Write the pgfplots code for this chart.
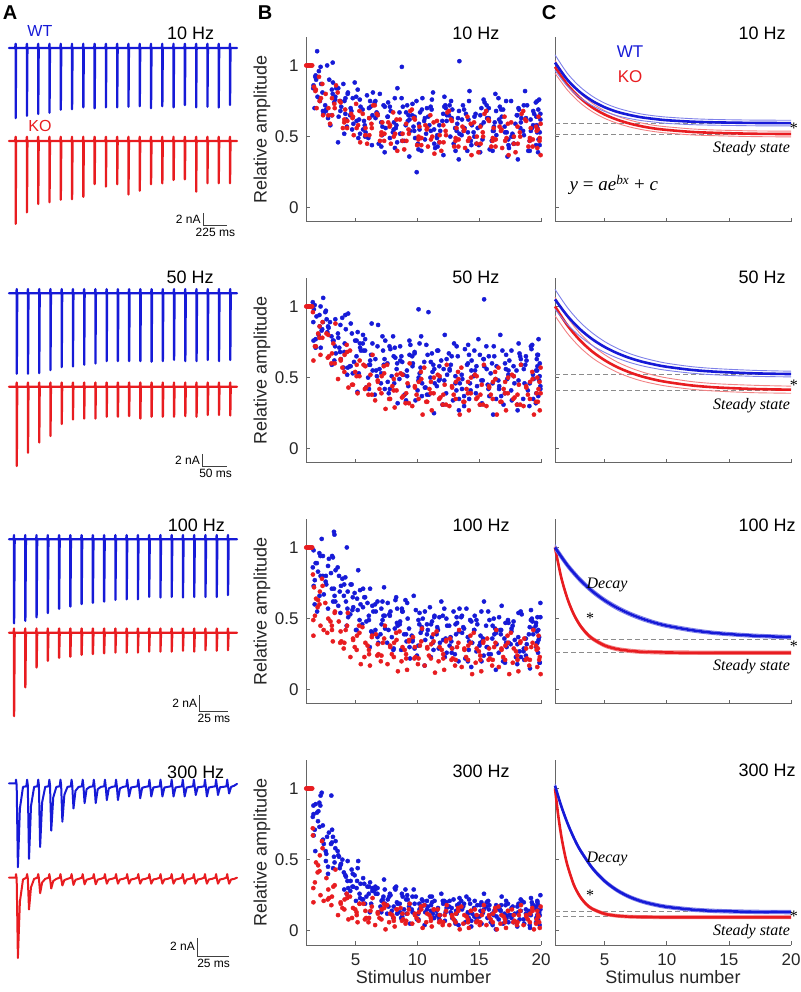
\documentclass[border=0pt]{standalone}
\usepackage{pgfplots}
\pgfplotsset{compat=1.18}
\usepackage{fontspec}
\setmainfont{Liberation Sans}
\newfontfamily\tnr{Liberation Serif}
\newcommand\fs[1]{\fontsize{#1}{#1}\selectfont}
\definecolor{wt}{RGB}{22,26,215}
\definecolor{ko}{RGB}{232,28,32}
\tikzset{sbl/.style={font=\fs{12}, inner sep=1pt}}
\pgfplotsset{
  bc/.style={anchor=south west, scale only axis, height=185pt, xmin=1, xmax=20, ymin=-0.1, ymax=1.2,
    axis x line*=bottom, axis y line*=left,
    axis line style={-, draw=black!60, line width=1pt},
    tick align=inside, major tick length=4pt,
    tick style={black!60, line width=0.8pt},
    xtick={5,10,15,20}, ytick={0,0.5,1},
    ticklabel style={font=\fs{17}, text=black!85},
    /pgf/number format/assume math mode=true,
    xticklabel style={yshift=-5pt}, yticklabel style={xshift=-4pt},
    clip=false},
  colB/.style={bc, width=235pt, ylabel={Relative amplitude},
    ylabel style={font=\fs{18}, text=black!85, at={(axis description cs:-0.187,0.5)}, anchor=center}},
  colC/.style={bc, width=236pt, yticklabels={}},
  nox/.style={xticklabels={}},
  botx/.style={xlabel={Stimulus number}, xlabel style={font=\fs{18}, text=black!85, at={(axis description cs:0.5,-0.173)}, anchor=center}},
  sc/.style={only marks, mark=*, mark size=2.1pt, color=#1},
  panelA/.style={anchor=south west, scale only axis, width=228pt, height=210pt, hide axis, clip=false},
  tr/.style={#1, line width=2.3pt, line join=round, line cap=round},
  cc/.style={#1, line width=2.6pt, smooth},
  cb/.style={#1!55!white, line width=0.9pt, smooth},
  dsh/.style={black!45, line width=1.1pt, dash pattern=on 5pt off 3pt},
  sbar/.style={black!75, line width=0.8pt},
}
\begin{document}
\begin{tikzpicture}
\useasboundingbox (0pt,0pt) rectangle (800pt,992pt);
\node[font=\fs{20}\bfseries] at (10pt,979pt) {A};
\node[font=\fs{20}\bfseries] at (265pt,979pt) {B};
\node[font=\fs{20}\bfseries] at (549pt,979pt) {C};

%================ ROW 1 : 10 Hz =================
\begin{axis}[panelA, at={(9pt,755pt)}, xmin=-0.59, xmax=19.62, ymin=-31.5, ymax=3.5]
\addplot[tr=wt] coordinates {(-0.59,0)(-0.04,0)(0,0.7)(0,-11.7)(0.04,0)(0.96,0)(1,0.7)(1,-11.3)(1.04,0)(1.96,0)(2,0.7)(2,-11.0)(2.04,0)(2.96,0)(3,0.7)(3,-10.8)(3.04,0)(3.96,0)(4,0.7)(4,-10.3)(4.04,0)(4.96,0)(5,0.7)(5,-10.2)(5.04,0)(5.96,0)(6,0.7)(6,-9.9)(6.04,0)(6.96,0)(7,0.7)(7,-10.05)(7.04,0)(7.96,0)(8,0.7)(8,-9.9)(8.04,0)(8.96,0)(9,0.7)(9,-9.9)(9.04,0)(9.96,0)(10,0.7)(10,-9.8)(10.04,0)(10.96,0)(11,0.7)(11,-9.7)(11.04,0)(11.96,0)(12,0.7)(12,-10.05)(12.04,0)(12.96,0)(13,0.7)(13,-9.7)(13.04,0)(13.96,0)(14,0.7)(14,-9.9)(14.04,0)(14.96,0)(15,0.7)(15,-9.5)(15.04,0)(15.96,0)(16,0.7)(16,-9.9)(16.04,0)(16.96,0)(17,0.7)(17,-9.8)(17.04,0)(17.96,0)(18,0.7)(18,-9.9)(18.04,0)(18.96,0)(19,0.7)(19,-9.5)(19.04,0)(19.62,0)};
\node[text=wt, font=\fs{16}] at (axis cs:2.15,2.83) {WT};
\node[font=\fs{18}] at (axis cs:15.5,2.5) {10 Hz};
\end{axis}
\begin{axis}[panelA, at={(9pt,755pt)}, xmin=-0.59, xmax=19.62, ymin=-16.0, ymax=19.0]
\addplot[tr=ko] coordinates {(-0.59,0)(-0.04,0)(0,0.7)(0,-13.8)(0.04,0)(0.96,0)(1,0.7)(1,-11.9)(1.04,0)(1.96,0)(2,0.7)(2,-10.5)(2.04,0)(2.96,0)(3,0.7)(3,-10.2)(3.04,0)(3.96,0)(4,0.7)(4,-9.8)(4.04,0)(4.96,0)(5,0.7)(5,-9.7)(5.04,0)(5.96,0)(6,0.7)(6,-9.3)(6.04,0)(6.96,0)(7,0.7)(7,-7.2)(7.04,0)(7.96,0)(8,0.7)(8,-7.6)(8.04,0)(8.96,0)(9,0.7)(9,-7.2)(9.04,0)(9.96,0)(10,0.7)(10,-8.9)(10.04,0)(10.96,0)(11,0.7)(11,-8.3)(11.04,0)(11.96,0)(12,0.7)(12,-7.2)(12.04,0)(12.96,0)(13,0.7)(13,-7.05)(13.04,0)(13.96,0)(14,0.7)(14,-6.5)(14.04,0)(14.96,0)(15,0.7)(15,-6.4)(15.04,0)(15.96,0)(16,0.7)(16,-8.45)(16.04,0)(16.96,0)(17,0.7)(17,-7.05)(17.04,0)(17.96,0)(18,0.7)(18,-7.05)(18.04,0)(18.96,0)(19,0.7)(19,-7.05)(19.04,0)(19.62,0)};
\node[text=ko, font=\fs{16}] at (axis cs:2.15,2.5) {KO};
\addplot[sbar] coordinates {(16.6,-12)(16.6,-14)(18.73,-14)};
\node[anchor=east, sbl] at (axis cs:16.5,-13) {2 nA};
\node[anchor=north, sbl] at (axis cs:17.7,-14.3) {225 ms};
\end{axis}

\begin{axis}[colB, nox, at={(306pt,770pt)}]
\addplot[sc=wt] coordinates {(1.58,.84)(1.69,.70)(1.82,.90)(1.93,.78)(2.04,.96)(2.13,.75)(2.22,.87)(2.33,.81)(2.41,.66)(1.75,.92)
(1.9,1.10)(3.16,1.02)(8.75,.99)(9.95,.25)(13.4,1.03)
(2.62,.69)(2.88,.90)(3.27,.74)(3.44,.84)(2.97,.58)(3.16,.80)(2.71,1.00)(3.08,.65)(3.36,.76)(2.55,.72)
(4.02,.87)(3.64,.64)(4.31,.57)(3.85,.71)(4.19,.77)(3.59,.46)(4.39,.81)(3.78,.68)(4.11,.75)(4.26,.62)
(4.73,.55)(5.41,.71)(4.94,.88)(5.23,.49)(4.56,.65)(5.35,.76)(4.83,.59)(5.06,.78)(5.29,.62)(4.67,.68)
(5.58,.69)(5.69,.61)(5.82,.53)(5.93,.79)(6.04,.49)(6.13,.63)(6.22,.71)(6.33,.44)(6.41,.81)(5.75,.58)
(6.62,.63)(6.88,.45)(7.27,.72)(7.44,.56)(6.97,.80)(7.16,.51)(6.71,.67)(7.08,.60)(7.36,.39)(6.55,.74)
(8.02,.53)(7.64,.74)(8.31,.58)(7.85,.68)(8.19,.42)(7.59,.64)(8.39,.84)(7.78,.49)(8.11,.60)(8.26,.56)
(8.73,.77)(9.41,.54)(8.94,.47)(9.23,.61)(8.56,.67)(9.35,.36)(8.83,.71)(9.06,.58)(9.29,.65)(8.67,.52)
(9.58,.65)(9.69,.57)(9.82,.49)(9.93,.75)(10.04,.45)(10.13,.59)(10.22,.67)(10.33,.40)(10.41,.77)(9.75,.54)
(10.62,.48)(10.88,.64)(11.27,.81)(11.44,.42)(10.97,.58)(11.16,.69)(10.71,.52)(11.08,.71)(11.36,.55)(10.55,.61)
(12.02,.61)(11.64,.43)(12.31,.70)(11.85,.54)(12.19,.78)(11.59,.49)(12.39,.65)(11.78,.58)(12.11,.37)(12.26,.72)
(12.73,.75)(13.41,.52)(12.94,.45)(13.23,.59)(12.56,.65)(13.35,.34)(12.83,.69)(13.06,.56)(13.29,.63)(12.67,.50)
(13.58,.51)(13.69,.72)(13.82,.56)(13.93,.66)(14.04,.40)(14.13,.62)(14.22,.82)(14.33,.47)(14.41,.58)(13.75,.54)
(14.62,.64)(14.88,.56)(15.27,.48)(15.44,.74)(14.97,.44)(15.16,.58)(14.71,.66)(15.08,.39)(15.36,.76)(14.55,.53)
(16.02,.47)(15.64,.63)(16.31,.80)(15.85,.41)(16.19,.57)(15.59,.68)(16.39,.51)(15.78,.70)(16.11,.54)(16.26,.60)
(16.73,.60)(17.41,.42)(16.94,.69)(17.23,.53)(16.56,.77)(17.35,.48)(16.83,.64)(17.06,.57)(17.29,.36)(16.67,.71)
(17.58,.75)(17.69,.52)(17.82,.45)(17.93,.59)(18.04,.65)(18.13,.34)(18.22,.69)(18.33,.56)(18.41,.63)(17.75,.50)
(18.62,.51)(18.88,.72)(19.27,.56)(19.44,.66)(18.97,.40)(19.16,.62)(18.71,.82)(19.08,.47)(19.36,.58)(18.55,.54)
(19.62,.64)(19.71,.56)(19.80,.48)(19.58,.74)(19.89,.44)(19.66,.58)(19.95,.66)(19.76,.39)(19.85,.76)(19.69,.53)};
\addplot[sc=wt] coordinates {(1.78,.93)(2.09,.77)(2.37,.68)(1.61,.86)(2.18,.99)
(2.78,.63)(3.09,.83)(3.37,.78)(2.61,.68)(3.18,.88)
(3.78,.75)(4.09,.52)(4.37,.80)(3.61,.84)(4.18,.66)
(4.78,.77)(5.09,.61)(5.37,.52)(4.61,.70)(5.18,.83)
(5.78,.50)(6.09,.70)(6.37,.65)(5.61,.55)(6.18,.75)
(6.78,.66)(7.09,.43)(7.37,.71)(6.61,.75)(7.18,.57)
(7.78,.71)(8.09,.55)(8.37,.46)(7.61,.64)(8.18,.77)
(8.78,.47)(9.09,.67)(9.37,.62)(8.61,.52)(9.18,.72)
(9.78,.64)(10.09,.41)(10.37,.69)(9.61,.73)(10.18,.55)
(10.78,.70)(11.09,.54)(11.37,.45)(10.61,.63)(11.18,.76)
(11.78,.46)(12.09,.66)(12.37,.61)(11.61,.51)(12.18,.71)
(12.78,.63)(13.09,.40)(13.37,.68)(12.61,.72)(13.18,.54)
(13.78,.69)(14.09,.53)(14.37,.44)(13.61,.62)(14.18,.75)
(14.78,.45)(15.09,.65)(15.37,.60)(14.61,.50)(15.18,.70)
(15.78,.63)(16.09,.40)(16.37,.68)(15.61,.72)(16.18,.54)
(16.78,.69)(17.09,.53)(17.37,.44)(16.61,.62)(17.18,.75)
(17.78,.45)(18.09,.65)(18.37,.60)(17.61,.50)(18.18,.70)
(18.78,.63)(19.09,.40)(19.37,.68)(18.61,.72)(19.18,.54)
(19.78,.69)(19.9,.53)(19.6,.44)(19.95,.62)(19.7,.75)};
\addplot[sc=ko] coordinates {(1.02,1)(1.1,1)(1.18,1)(1.26,1)(1.34,1)(1.42,1)(1.5,1)
(1.65,.85)(1.86,.70)(2.05,.92)(2.21,.77)(2.38,.65)(1.76,.82)
(3.12,.65)(2.59,.80)(3.29,.73)(2.94,.59)(3.43,.86)(2.81,.70)
(3.72,.75)(4.34,.61)(3.98,.56)(4.17,.69)(3.56,.81)(4.09,.60)
(4.65,.66)(4.86,.51)(5.05,.73)(5.21,.58)(5.38,.46)(4.76,.63)
(6.12,.51)(5.59,.66)(6.29,.59)(5.94,.45)(6.43,.72)(5.81,.56)
(6.72,.66)(7.34,.52)(6.98,.47)(7.17,.60)(6.56,.72)(7.09,.51)
(7.65,.60)(7.86,.45)(8.05,.67)(8.21,.52)(8.38,.40)(7.76,.57)
(9.12,.47)(8.59,.62)(9.29,.55)(8.94,.41)(9.43,.68)(8.81,.52)
(9.72,.63)(10.34,.49)(9.98,.44)(10.17,.57)(9.56,.69)(10.09,.48)
(10.65,.58)(10.86,.43)(11.05,.65)(11.21,.50)(11.38,.38)(10.76,.55)
(12.12,.46)(11.59,.61)(12.29,.54)(11.94,.40)(12.43,.67)(11.81,.51)
(12.72,.62)(13.34,.48)(12.98,.43)(13.17,.56)(12.56,.68)(13.09,.47)
(13.65,.57)(13.86,.42)(14.05,.64)(14.21,.49)(14.38,.37)(13.76,.54)
(15.12,.45)(14.59,.60)(15.29,.53)(14.94,.39)(15.43,.66)(14.81,.50)
(15.72,.62)(16.34,.48)(15.98,.43)(16.17,.56)(15.56,.68)(16.09,.47)
(16.65,.57)(16.86,.42)(17.05,.64)(17.21,.49)(17.38,.37)(16.76,.54)
(18.12,.45)(17.59,.60)(18.29,.53)(17.94,.39)(18.43,.66)(17.81,.50)
(18.72,.62)(19.34,.48)(18.98,.43)(19.17,.56)(18.56,.68)(19.09,.47)
(19.6,.57)(19.7,.42)(19.8,.64)(19.9,.49)(19.97,.37)(19.65,.54)
(1.8,.83)(2.1,.75)(2.32,.87)(2.8,.65)(3.1,.77)(3.32,.70)(3.8,.74)(4.1,.62)(4.32,.56)
(4.8,.64)(5.1,.56)(5.32,.68)(5.8,.51)(6.1,.63)(6.32,.56)(6.8,.65)(7.1,.53)(7.32,.47)
(7.8,.58)(8.1,.50)(8.32,.62)(8.8,.47)(9.1,.59)(9.32,.52)(9.8,.62)(10.1,.50)(10.32,.44)
(10.8,.56)(11.1,.48)(11.32,.60)(11.8,.46)(12.1,.58)(12.32,.51)(12.8,.61)(13.1,.49)(13.32,.43)
(13.8,.55)(14.1,.47)(14.32,.59)(14.8,.45)(15.1,.57)(15.32,.50)(15.8,.61)(16.1,.49)(16.32,.43)
(16.8,.55)(17.1,.47)(17.32,.59)(17.8,.45)(18.1,.57)(18.32,.50)(18.8,.61)(19.1,.49)(19.32,.43)
(19.75,.55)(19.88,.47)(19.97,.59)};
\node[font=\fs{18}] at (axis cs:14.74,1.228) {10 Hz};
\end{axis}

\begin{axis}[colC, nox, at={(555pt,770pt)}]
\addplot[dsh] coordinates {(1,.595)(20,.595)};
\addplot[dsh] coordinates {(1,.517)(20,.517)};
\addplot[cb=ko] coordinates {(1,1.035)(2,.903)(3,.807)(4,.735)(5,.682)(6,.644)(7,.616)(8,.595)(9,.579)(10,.569)(12,.554)(14,.546)(17,.540)(20,.538)};
\addplot[cb=ko] coordinates {(1,.945)(2,.827)(3,.739)(4,.675)(5,.628)(6,.594)(7,.568)(8,.549)(9,.535)(10,.525)(12,.512)(14,.506)(17,.500)(20,.498)};
\addplot[cc=ko] coordinates {(1,.990)(2,.865)(3,.773)(4,.705)(5,.655)(6,.619)(7,.592)(8,.572)(9,.557)(10,.547)(12,.533)(14,.526)(17,.520)(20,.518)};
\addplot[cb=wt] coordinates {(1,1.075)(2,.944)(3,.851)(4,.784)(5,.735)(6,.701)(7,.677)(8,.658)(9,.646)(10,.637)(12,.626)(14,.620)(17,.616)(20,.615)};
\addplot[cb=wt] coordinates {(1,.965)(2,.854)(3,.775)(4,.718)(5,.677)(6,.647)(7,.627)(8,.612)(9,.602)(10,.593)(12,.584)(14,.580)(17,.576)(20,.575)};
\addplot[cc=wt] coordinates {(1,1.020)(2,.899)(3,.813)(4,.751)(5,.706)(6,.674)(7,.652)(8,.635)(9,.624)(10,.615)(12,.605)(14,.600)(17,.596)(20,.595)};
\node[font=\fs{18}] at (axis cs:17.67,1.228) {10 Hz};
\node[text=wt, font=\fs{17}] at (axis cs:7.04,1.095) {WT};
\node[text=ko, font=\fs{17}] at (axis cs:7.04,0.919) {KO};
\node[font=\tnr\fs{16}] at (axis cs:20.24,0.561) {*};
\node[anchor=east, font=\tnr\itshape\fs{16}] at (axis cs:20.2,0.413) {Steady state};
\node[anchor=west, font=\tnr\fs{19}] at (axis cs:1.9,0.16) {\textit{y} = \textit{ae}\textsuperscript{\textit{bx}} + \textit{c}};
\end{axis}

%================ ROW 2 : 50 Hz =================
\begin{axis}[panelA, at={(9pt,514pt)}, xmin=-0.69, xmax=19.6, ymin=-30.78, ymax=4.22]
\addplot[tr=wt] coordinates {(-0.69,0)(-0.04,0)(0,0.7)(0,-13.4)(0.04,0)(0.96,0)(1,0.7)(1,-13.4)(1.04,0)(1.96,0)(2,0.7)(2,-13.3)(2.04,0)(2.96,0)(3,0.7)(3,-12.8)(3.04,0)(3.96,0)(4,0.7)(4,-12.3)(4.04,0)(4.96,0)(5,0.7)(5,-12.2)(5.04,0)(5.96,0)(6,0.7)(6,-11.9)(6.04,0)(6.96,0)(7,0.7)(7,-11.7)(7.04,0)(7.96,0)(8,0.7)(8,-11.3)(8.04,0)(8.96,0)(9,0.7)(9,-11.3)(9.04,0)(9.96,0)(10,0.7)(10,-11.3)(10.04,0)(10.96,0)(11,0.7)(11,-11.3)(11.04,0)(11.96,0)(12,0.7)(12,-11.4)(12.04,0)(12.96,0)(13,0.7)(13,-11.3)(13.04,0)(13.96,0)(14,0.7)(14,-11.1)(14.04,0)(14.96,0)(15,0.7)(15,-11.3)(15.04,0)(15.96,0)(16,0.7)(16,-11.3)(16.04,0)(16.96,0)(17,0.7)(17,-11.1)(17.04,0)(17.96,0)(18,0.7)(18,-11.3)(18.04,0)(18.96,0)(19,0.7)(19,-11.1)(19.04,0)(19.6,0)};
\node[font=\fs{18}] at (axis cs:15.43,2.7) {50 Hz};
\end{axis}
\begin{axis}[panelA, at={(9pt,514pt)}, xmin=-0.69, xmax=19.6, ymin=-15.21, ymax=19.79]
\addplot[tr=ko] coordinates {(-0.69,0)(-0.04,0)(0,0.7)(0,-13.2)(0.04,0)(0.96,0)(1,0.7)(1,-11.0)(1.04,0)(1.96,0)(2,0.7)(2,-9.3)(2.04,0)(2.96,0)(3,0.7)(3,-8.2)(3.04,0)(3.96,0)(4,0.7)(4,-6.2)(4.04,0)(4.96,0)(5,0.7)(5,-5.45)(5.04,0)(5.96,0)(6,0.7)(6,-5.3)(6.04,0)(6.96,0)(7,0.7)(7,-5.3)(7.04,0)(7.96,0)(8,0.7)(8,-5.0)(8.04,0)(8.96,0)(9,0.7)(9,-5.0)(9.04,0)(9.96,0)(10,0.7)(10,-4.9)(10.04,0)(10.96,0)(11,0.7)(11,-5.3)(11.04,0)(11.96,0)(12,0.7)(12,-5.0)(12.04,0)(12.96,0)(13,0.7)(13,-5.0)(13.04,0)(13.96,0)(14,0.7)(14,-5.0)(14.04,0)(14.96,0)(15,0.7)(15,-4.9)(15.04,0)(15.96,0)(16,0.7)(16,-5.0)(16.04,0)(16.96,0)(17,0.7)(17,-4.7)(17.04,0)(17.96,0)(18,0.7)(18,-4.7)(18.04,0)(18.96,0)(19,0.7)(19,-4.8)(19.04,0)(19.6,0)};
\addplot[sbar] coordinates {(16.5,-11.2)(16.5,-13.2)(18.7,-13.2)};
\node[anchor=east, sbl] at (axis cs:16.4,-12.2) {2 nA};
\node[anchor=north, sbl] at (axis cs:17.7,-13.5) {50 ms};
\end{axis}

\begin{axis}[colB, nox, at={(306pt,529pt)}]
\addplot[sc=wt] coordinates {(2.02,.80)(1.64,.98)(2.31,.84)(1.85,.93)(2.19,.71)(1.59,.89)(2.39,1.06)(1.78,.77)(2.11,.86)(2.26,.83)
(1.55,1.03)(1.7,1.01)(10.1,.98)(10.9,.96)(15.4,1.05)
(2.73,.82)(3.41,.67)(2.94,.89)(3.23,.76)(2.56,.96)(3.35,.72)(2.83,.85)(3.06,.79)(3.29,.62)(2.67,.91)
(3.58,.81)(3.69,.71)(3.82,.63)(3.93,.92)(4.04,.57)(4.13,.74)(4.22,.84)(4.33,.52)(4.41,.95)(3.75,.68)
(4.62,.88)(4.88,.61)(5.27,.53)(5.44,.69)(4.97,.76)(5.16,.40)(4.71,.81)(5.08,.65)(5.36,.74)(4.55,.58)
(6.02,.50)(5.64,.69)(6.31,.88)(5.85,.43)(6.19,.62)(5.59,.74)(6.39,.55)(5.78,.77)(6.11,.59)(6.26,.66)
(6.73,.51)(7.41,.76)(6.94,.56)(7.23,.69)(6.56,.38)(7.35,.63)(6.83,.87)(7.06,.46)(7.29,.59)(6.67,.55)
(7.58,.60)(7.69,.39)(7.82,.70)(7.93,.51)(8.04,.79)(8.13,.46)(8.22,.64)(8.33,.56)(8.41,.32)(7.75,.72)
(8.62,.62)(8.88,.52)(9.27,.44)(9.44,.73)(8.97,.38)(9.16,.55)(8.71,.65)(9.08,.33)(9.36,.76)(8.55,.49)
(10.02,.41)(9.64,.60)(10.31,.79)(9.85,.34)(10.19,.53)(9.59,.65)(10.39,.46)(9.78,.68)(10.11,.50)(10.26,.57)
(10.73,.73)(11.41,.46)(10.94,.38)(11.23,.54)(10.56,.61)(11.35,.25)(10.83,.66)(11.06,.50)(11.29,.59)(10.67,.43)
(11.58,.44)(11.69,.69)(11.82,.49)(11.93,.62)(12.04,.31)(12.13,.56)(12.22,.80)(12.33,.39)(12.41,.52)(11.75,.48)
(12.62,.55)(12.88,.34)(13.27,.65)(13.44,.46)(12.97,.74)(13.16,.41)(12.71,.59)(13.08,.51)(13.36,.27)(12.55,.67)
(14.02,.59)(13.64,.49)(14.31,.41)(13.85,.70)(14.19,.35)(13.59,.52)(14.39,.62)(13.78,.30)(14.11,.73)(14.26,.46)
(14.73,.39)(15.41,.58)(14.94,.77)(15.23,.32)(14.56,.51)(15.35,.63)(14.83,.44)(15.06,.66)(15.29,.48)(14.67,.55)
(15.58,.72)(15.69,.45)(15.82,.37)(15.93,.53)(16.04,.60)(16.13,.24)(16.22,.65)(16.33,.49)(16.41,.58)(15.75,.42)
(16.62,.44)(16.88,.69)(17.27,.49)(17.44,.62)(16.97,.31)(17.16,.56)(16.71,.80)(17.08,.39)(17.36,.52)(16.55,.48)
(18.02,.55)(17.64,.34)(18.31,.65)(17.85,.46)(18.19,.74)(17.59,.41)(18.39,.59)(17.78,.51)(18.11,.27)(18.26,.67)
(18.73,.59)(19.41,.49)(18.94,.41)(19.23,.70)(18.56,.35)(19.35,.52)(18.83,.62)(19.06,.30)(19.29,.73)(18.67,.46)
(19.62,.39)(19.71,.58)(19.80,.77)(19.58,.32)(19.89,.51)(19.66,.63)(19.95,.44)(19.76,.66)(19.85,.48)(19.69,.55)};
\addplot[sc=wt] coordinates {(1.78,.71)(2.09,.94)(2.37,.89)(1.61,.76)(2.18,1.00)
(2.78,.86)(3.09,.59)(3.37,.91)(2.61,.97)(3.18,.76)
(3.78,.87)(4.09,.68)(4.37,.57)(3.61,.78)(4.18,.94)
(4.78,.53)(5.09,.76)(5.37,.71)(4.61,.58)(5.18,.82)
(5.78,.69)(6.09,.42)(6.37,.74)(5.61,.80)(6.18,.59)
(6.78,.72)(7.09,.53)(7.37,.42)(6.61,.63)(7.18,.79)
(7.78,.42)(8.09,.65)(8.37,.60)(7.61,.47)(8.18,.71)
(8.78,.61)(9.09,.34)(9.37,.66)(8.61,.72)(9.18,.51)
(9.78,.67)(10.09,.48)(10.37,.37)(9.61,.58)(10.18,.74)
(10.78,.38)(11.09,.61)(11.37,.56)(10.61,.43)(11.18,.67)
(11.78,.58)(12.09,.31)(12.37,.63)(11.61,.69)(12.18,.48)
(12.78,.65)(13.09,.46)(13.37,.35)(12.61,.56)(13.18,.72)
(13.78,.37)(14.09,.60)(14.37,.55)(13.61,.42)(14.18,.66)
(14.78,.58)(15.09,.31)(15.37,.63)(14.61,.69)(15.18,.48)
(15.78,.65)(16.09,.46)(16.37,.35)(15.61,.56)(16.18,.72)
(16.78,.37)(17.09,.60)(17.37,.55)(16.61,.42)(17.18,.66)
(17.78,.58)(18.09,.31)(18.37,.63)(17.61,.69)(18.18,.48)
(18.78,.65)(19.09,.46)(19.37,.35)(18.61,.56)(19.18,.72)
(19.78,.37)(19.9,.60)(19.6,.55)(19.95,.42)(19.7,.66)};
\addplot[sc=ko] coordinates {(1.02,1)(1.1,1)(1.18,1)(1.26,1)(1.34,1)(1.42,1)(1.5,1)
(1.72,.72)(2.34,.89)(1.98,.81)(2.17,.66)(1.56,.96)(2.09,.78)(1.6,.62)
(2.65,.81)(2.86,.65)(3.05,.60)(3.21,.74)(3.38,.88)(2.76,.64)
(4.12,.66)(3.59,.49)(4.29,.73)(3.94,.57)(4.43,.43)(3.81,.62)
(4.72,.45)(5.34,.62)(4.98,.54)(5.17,.39)(4.56,.69)(5.09,.51)
(5.65,.59)(5.86,.43)(6.05,.38)(6.21,.52)(6.38,.66)(5.76,.42)
(7.12,.51)(6.59,.34)(7.29,.58)(6.94,.42)(7.43,.28)(6.81,.47)
(7.72,.35)(8.34,.52)(7.98,.44)(8.17,.29)(7.56,.59)(8.09,.41)
(8.65,.53)(8.86,.37)(9.05,.32)(9.21,.46)(9.38,.60)(8.76,.36)
(10.12,.47)(9.59,.30)(10.29,.54)(9.94,.38)(10.43,.24)(9.81,.43)
(10.72,.33)(11.34,.50)(10.98,.42)(11.17,.27)(10.56,.57)(11.09,.39)
(11.65,.52)(11.86,.36)(12.05,.31)(12.21,.45)(12.38,.59)(11.76,.35)
(13.12,.47)(12.59,.30)(13.29,.54)(12.94,.38)(13.43,.24)(12.81,.43)
(13.72,.33)(14.34,.50)(13.98,.42)(14.17,.27)(13.56,.57)(14.09,.39)
(14.65,.52)(14.86,.36)(15.05,.31)(15.21,.45)(15.38,.59)(14.76,.35)
(16.12,.47)(15.59,.30)(16.29,.54)(15.94,.38)(16.43,.24)(15.81,.43)
(16.72,.33)(17.34,.50)(16.98,.42)(17.17,.27)(16.56,.57)(17.09,.39)
(17.65,.52)(17.86,.36)(18.05,.31)(18.21,.45)(18.38,.59)(17.76,.35)
(19.12,.47)(18.59,.30)(19.29,.54)(18.94,.38)(19.43,.24)(18.81,.43)
(19.6,.33)(19.7,.50)(19.8,.42)(19.9,.27)(19.97,.57)(19.65,.39)
(1.8,.72)(2.1,.86)(2.32,.78)(2.8,.80)(3.1,.67)(3.32,.60)(3.8,.63)(4.1,.54)(4.32,.68)
(4.8,.45)(5.1,.59)(5.32,.51)(5.8,.58)(6.1,.45)(6.32,.38)(6.8,.48)(7.1,.39)(7.32,.53)
(7.8,.35)(8.1,.49)(8.32,.41)(8.8,.52)(9.1,.39)(9.32,.32)(9.8,.44)(10.1,.35)(10.32,.49)
(10.8,.33)(11.1,.47)(11.32,.39)(11.8,.51)(12.1,.38)(12.32,.31)(12.8,.44)(13.1,.35)(13.32,.49)
(13.8,.33)(14.1,.47)(14.32,.39)(14.8,.51)(15.1,.38)(15.32,.31)(15.8,.44)(16.1,.35)(16.32,.49)
(16.8,.33)(17.1,.47)(17.32,.39)(17.8,.51)(18.1,.38)(18.32,.31)(18.8,.44)(19.1,.35)(19.32,.49)
(19.75,.33)(19.88,.47)(19.97,.39)};
\node[font=\fs{18}] at (axis cs:14.74,1.207) {50 Hz};
\end{axis}

\begin{axis}[colC, nox, at={(555pt,529pt)}]
\addplot[dsh] coordinates {(1,.52)(20,.52)};
\addplot[dsh] coordinates {(1,.41)(20,.41)};
\addplot[cb=ko] coordinates {(1,1.065)(2,.923)(3,.812)(4,.727)(5,.661)(6,.610)(7,.571)(8,.540)(9,.516)(10,.498)(12,.472)(14,.457)(17,.446)(20,.440)};
\addplot[cb=ko] coordinates {(1,.935)(2,.811)(3,.714)(4,.639)(5,.583)(6,.538)(7,.503)(8,.476)(9,.456)(10,.440)(12,.418)(14,.405)(17,.394)(20,.390)};
\addplot[cc=ko] coordinates {(1,1.000)(2,.867)(3,.763)(4,.683)(5,.622)(6,.574)(7,.537)(8,.508)(9,.486)(10,.469)(12,.445)(14,.431)(17,.420)(20,.415)};
\addplot[cb=wt] coordinates {(1,1.120)(2,.992)(3,.891)(4,.814)(5,.753)(6,.706)(7,.669)(8,.641)(9,.619)(10,.601)(12,.577)(14,.563)(17,.551)(20,.545)};
\addplot[cb=wt] coordinates {(1,.980)(2,.874)(3,.791)(4,.726)(5,.677)(6,.638)(7,.607)(8,.583)(9,.565)(10,.551)(12,.531)(14,.519)(17,.509)(20,.505)};
\addplot[cc=wt] coordinates {(1,1.050)(2,.933)(3,.841)(4,.770)(5,.715)(6,.672)(7,.638)(8,.612)(9,.592)(10,.576)(12,.554)(14,.541)(17,.530)(20,.525)};
\node[font=\fs{18}] at (axis cs:17.67,1.207) {50 Hz};
\node[font=\tnr\fs{16}] at (axis cs:20.24,0.448) {*};
\node[anchor=east, font=\tnr\itshape\fs{16}] at (axis cs:20.2,0.30) {Steady state};
\end{axis}

%================ ROW 3 : 100 Hz =================
\begin{axis}[panelA, at={(9pt,273pt)}, xmin=-0.45, xmax=19.8, ymin=-29.95, ymax=5.05]
\addplot[tr=wt] coordinates {(-0.45,0)(-0.04,0)(0,0.7)(0,-14.0)(0.05,0)(0.96,0)(1,0.7)(1,-13.6)(1.05,0)(1.96,0)(2,0.7)(2,-13.0)(2.05,0)(2.96,0)(3,0.7)(3,-12.3)(3.05,0)(3.96,0)(4,0.7)(4,-11.6)(4.05,0)(4.96,0)(5,0.7)(5,-11.2)(5.05,0)(5.96,0)(6,0.7)(6,-10.8)(6.05,0)(6.96,0)(7,0.7)(7,-10.6)(7.05,0)(7.96,0)(8,0.7)(8,-10.4)(8.05,0)(8.96,0)(9,0.7)(9,-10.1)(9.05,0)(9.96,0)(10,0.7)(10,-10.0)(10.05,0)(10.96,0)(11,0.7)(11,-10.0)(11.05,0)(11.96,0)(12,0.7)(12,-9.6)(12.05,0)(12.96,0)(13,0.7)(13,-9.7)(13.05,0)(13.96,0)(14,0.7)(14,-9.6)(14.05,0)(14.96,0)(15,0.7)(15,-9.7)(15.05,0)(15.96,0)(16,0.7)(16,-9.6)(16.05,0)(16.96,0)(17,0.7)(17,-9.6)(17.05,0)(17.96,0)(18,0.7)(18,-9.6)(18.05,0)(18.96,0)(19,0.7)(19,-9.3)(19.05,0)(19.8,0)};
\node[font=\fs{18}] at (axis cs:16.2,2.4) {100 Hz};
\end{axis}
\begin{axis}[panelA, at={(9pt,273pt)}, xmin=-0.45, xmax=19.8, ymin=-14.38, ymax=20.62]
\addplot[tr=ko] coordinates {(-0.45,0)(-0.04,0)(0,0.7)(0,-13.9)(0.05,0)(0.96,0)(1,0.7)(1,-9.1)(1.05,0)(1.96,0)(2,0.7)(2,-5.8)(2.05,0)(2.96,0)(3,0.7)(3,-4.7)(3.05,0)(3.96,0)(4,0.7)(4,-4.2)(4.05,0)(4.96,0)(5,0.7)(5,-4.0)(5.05,0)(5.96,0)(6,0.7)(6,-3.7)(6.05,0)(6.96,0)(7,0.7)(7,-3.55)(7.05,0)(7.96,0)(8,0.7)(8,-3.45)(8.05,0)(8.96,0)(9,0.7)(9,-3.3)(9.05,0)(9.96,0)(10,0.7)(10,-3.3)(10.05,0)(10.96,0)(11,0.7)(11,-3.3)(11.05,0)(11.96,0)(12,0.7)(12,-3.15)(12.05,0)(12.96,0)(13,0.7)(13,-3.15)(13.05,0)(13.96,0)(14,0.7)(14,-3.15)(14.05,0)(14.96,0)(15,0.7)(15,-3.0)(15.05,0)(15.96,0)(16,0.7)(16,-3.15)(16.05,0)(16.96,0)(17,0.7)(17,-2.9)(17.05,0)(17.96,0)(18,0.7)(18,-3.0)(18.05,0)(18.96,0)(19,0.7)(19,-2.9)(19.05,0)(19.8,0)};
\addplot[sbar] coordinates {(16.46,-10.4)(16.46,-13.05)(19.0,-13.05)};
\node[anchor=east, sbl] at (axis cs:16.36,-11.7) {2 nA};
\node[anchor=north, sbl] at (axis cs:17.75,-13.3) {25 ms};
\end{axis}

\begin{axis}[colB, nox, at={(306pt,288pt)}]
\addplot[sc=wt] coordinates {(1.62,.73)(1.88,.89)(2.27,1.06)(2.44,.67)(1.97,.83)(2.16,.94)(1.71,.77)(2.08,.96)(2.36,.80)(1.55,.86)
(3.26,1.11)(3.3,1.09)(4.3,1.0)(1.7,.60)(1.9,.55)
(3.02,.82)(2.64,.74)(3.31,.66)(2.85,.92)(3.19,.62)(2.59,.76)(3.39,.84)(2.78,.57)(3.11,.94)(3.26,.71)
(3.73,.69)(4.41,.51)(3.94,.78)(4.23,.62)(3.56,.86)(4.35,.57)(3.83,.73)(4.06,.66)(4.29,.45)(3.67,.80)
(4.58,.53)(4.69,.74)(4.82,.58)(4.93,.68)(5.04,.42)(5.13,.64)(5.22,.84)(5.33,.49)(5.41,.60)(4.75,.56)
(5.62,.71)(5.88,.48)(6.27,.41)(6.44,.55)(5.97,.61)(6.16,.30)(5.71,.65)(6.08,.52)(6.36,.59)(5.55,.46)
(7.02,.39)(6.64,.55)(7.31,.72)(6.85,.33)(7.19,.49)(6.59,.60)(7.39,.43)(6.78,.62)(7.11,.46)(7.26,.52)
(7.73,.53)(8.41,.45)(7.94,.37)(8.23,.63)(7.56,.33)(8.35,.47)(7.83,.55)(8.06,.28)(8.29,.65)(7.67,.42)
(8.58,.46)(8.69,.28)(8.82,.55)(8.93,.39)(9.04,.63)(9.13,.34)(9.22,.50)(9.33,.43)(9.41,.22)(8.75,.57)
(9.62,.35)(9.88,.56)(10.27,.40)(10.44,.50)(9.97,.24)(10.16,.46)(9.71,.66)(10.08,.31)(10.36,.42)(9.55,.38)
(11.02,.58)(10.64,.35)(11.31,.28)(10.85,.42)(11.19,.48)(10.59,.17)(11.39,.52)(10.78,.39)(11.11,.46)(11.26,.33)
(11.73,.29)(12.41,.45)(11.94,.62)(12.23,.23)(11.56,.39)(12.35,.50)(11.83,.33)(12.06,.52)(12.29,.36)(11.67,.42)
(12.58,.45)(12.69,.37)(12.82,.29)(12.93,.55)(13.04,.25)(13.13,.39)(13.22,.47)(13.33,.20)(13.41,.57)(12.75,.34)
(13.62,.40)(13.88,.22)(14.27,.49)(14.44,.33)(13.97,.57)(14.16,.28)(13.71,.44)(14.08,.37)(14.36,.16)(13.55,.51)
(15.02,.31)(14.64,.52)(15.31,.36)(14.85,.46)(15.19,.20)(14.59,.42)(15.39,.62)(14.78,.27)(15.11,.38)(15.26,.34)
(15.73,.55)(16.41,.32)(15.94,.25)(16.23,.39)(15.56,.45)(16.35,.14)(15.83,.49)(16.06,.36)(16.29,.43)(15.67,.30)
(16.58,.26)(16.69,.42)(16.82,.59)(16.93,.20)(17.04,.36)(17.13,.47)(17.22,.30)(17.33,.49)(17.41,.33)(16.75,.39)
(17.62,.43)(17.88,.35)(18.27,.27)(18.44,.53)(17.97,.23)(18.16,.37)(17.71,.45)(18.08,.18)(18.36,.55)(17.55,.32)
(19.02,.39)(18.64,.21)(19.31,.48)(18.85,.32)(19.19,.56)(18.59,.27)(19.39,.43)(18.78,.36)(19.11,.15)(19.26,.50)
(19.62,.30)(19.71,.51)(19.80,.35)(19.58,.45)(19.89,.19)(19.66,.41)(19.95,.61)(19.76,.26)(19.85,.37)(19.69,.33)};
\addplot[sc=wt] coordinates {(1.78,.89)(2.09,.66)(2.37,.94)(1.61,.98)(2.18,.80)
(2.78,.87)(3.09,.71)(3.37,.62)(2.61,.80)(3.18,.93)
(3.78,.54)(4.09,.74)(4.37,.69)(3.61,.59)(4.18,.79)
(4.78,.65)(5.09,.42)(5.37,.70)(4.61,.74)(5.18,.56)
(5.78,.65)(6.09,.49)(6.37,.40)(5.61,.58)(6.18,.71)
(6.78,.37)(7.09,.57)(7.37,.52)(6.61,.42)(7.18,.62)
(7.78,.52)(8.09,.29)(8.37,.57)(7.61,.61)(8.18,.43)
(8.78,.55)(9.09,.39)(9.37,.30)(8.61,.48)(9.18,.61)
(9.78,.29)(10.09,.49)(10.37,.44)(9.61,.34)(10.18,.54)
(10.78,.46)(11.09,.23)(11.37,.51)(10.61,.55)(11.18,.37)
(11.78,.51)(12.09,.35)(12.37,.26)(11.61,.44)(12.18,.57)
(12.78,.26)(13.09,.46)(13.37,.41)(12.61,.31)(13.18,.51)
(13.78,.43)(14.09,.20)(14.37,.48)(13.61,.52)(14.18,.34)
(14.78,.49)(15.09,.33)(15.37,.24)(14.61,.42)(15.18,.55)
(15.78,.25)(16.09,.45)(16.37,.40)(15.61,.30)(16.18,.50)
(16.78,.42)(17.09,.19)(17.37,.47)(16.61,.51)(17.18,.33)
(17.78,.48)(18.09,.32)(18.37,.23)(17.61,.41)(18.18,.54)
(18.78,.24)(19.09,.44)(19.37,.39)(18.61,.29)(19.18,.49)
(19.78,.42)(19.9,.19)(19.6,.47)(19.95,.51)(19.7,.33)};
\addplot[sc=ko] coordinates {(1.02,1)(1.1,1)(1.18,1)(1.26,1)(1.34,1)(1.42,1)(1.5,1)
(2.12,.69)(1.59,.49)(2.29,.78)(1.94,.58)(2.43,.42)(1.81,.64)(1.72,.52)(2.34,.73)(1.98,.63)(2.17,.45)(1.56,.81)(2.09,.60)(1.6,.38)(1.65,.72)
(2.72,.40)(3.34,.55)(2.98,.48)(3.17,.34)(2.56,.61)(3.09,.45)(2.8,.50)(3.1,.42)(3.32,.54)
(3.65,.48)(3.86,.34)(4.05,.29)(4.21,.42)(4.38,.54)(3.76,.33)(3.8,.41)(4.1,.33)(4.32,.45)
(5.12,.38)(4.59,.23)(5.29,.45)(4.94,.30)(5.43,.18)(4.81,.35)(4.8,.36)(5.1,.28)(5.32,.40)
(5.72,.23)(6.34,.38)(5.98,.31)(6.17,.17)(5.56,.44)(6.09,.28)(5.8,.33)(6.1,.25)(6.32,.37)
(6.65,.39)(6.86,.25)(7.05,.20)(7.21,.33)(7.38,.45)(6.76,.24)(6.8,.32)(7.1,.24)(7.32,.36)
(8.12,.33)(7.59,.18)(8.29,.40)(7.94,.25)(8.43,.13)(7.81,.30)(7.8,.31)(8.1,.23)(8.32,.35)
(8.72,.20)(9.34,.35)(8.98,.28)(9.17,.14)(8.56,.41)(9.09,.25)(8.8,.30)(9.1,.22)(9.32,.34)
(9.65,.37)(9.86,.23)(10.05,.18)(10.21,.31)(10.38,.43)(9.76,.22)(9.8,.30)(10.1,.22)(10.32,.34)
(11.12,.32)(10.59,.17)(11.29,.39)(10.94,.24)(11.43,.12)(10.81,.29)(10.8,.30)(11.1,.22)(11.32,.34)
(11.72,.20)(12.34,.35)(11.98,.28)(12.17,.14)(11.56,.41)(12.09,.25)(11.8,.30)(12.1,.22)(12.32,.34)
(12.65,.36)(12.86,.22)(13.05,.17)(13.21,.30)(13.38,.42)(12.76,.21)(12.8,.29)(13.1,.21)(13.32,.33)
(14.12,.31)(13.59,.16)(14.29,.38)(13.94,.23)(14.43,.11)(13.81,.28)(13.8,.29)(14.1,.21)(14.32,.33)
(14.72,.19)(15.34,.34)(14.98,.27)(15.17,.13)(14.56,.40)(15.09,.24)(14.8,.29)(15.1,.21)(15.32,.33)
(15.65,.36)(15.86,.22)(16.05,.17)(16.21,.30)(16.38,.42)(15.76,.21)(15.8,.29)(16.1,.21)(16.32,.33)
(17.12,.31)(16.59,.16)(17.29,.38)(16.94,.23)(17.43,.11)(16.81,.28)(16.8,.29)(17.1,.21)(17.32,.33)
(17.72,.19)(18.34,.34)(17.98,.27)(18.17,.13)(17.56,.40)(18.09,.24)(17.8,.29)(18.1,.21)(18.32,.33)
(18.65,.36)(18.86,.22)(19.05,.17)(19.21,.30)(19.38,.42)(18.76,.21)(18.8,.29)(19.1,.21)(19.32,.33)
(19.6,.31)(19.7,.16)(19.8,.38)(19.9,.23)(19.97,.11)(19.65,.28)(19.75,.29)(19.85,.21)};
\node[font=\fs{18}] at (axis cs:15.15,1.158) {100 Hz};
\end{axis}

\begin{axis}[colC, nox, at={(555pt,288pt)}]
\addplot[dsh] coordinates {(1,.355)(20,.355)};
\addplot[dsh] coordinates {(1,.26)(20,.26)};
\addplot[cb=ko] coordinates {(1,1.012)(1.5,.802)(2,.652)(2.5,.544)(3,.467)(3.5,.412)(4,.372)(5,.323)(6,.298)(7,.286)(8,.279)(10,.274)(14,.272)(20,.272)};
\addplot[cb=ko] coordinates {(1,.988)(1.5,.778)(2,.628)(2.5,.520)(3,.443)(3.5,.388)(4,.348)(5,.299)(6,.274)(7,.262)(8,.255)(10,.250)(14,.248)(20,.248)};
\addplot[cc=ko] coordinates {(1,1.000)(1.5,.790)(2,.640)(2.5,.532)(3,.455)(3.5,.400)(4,.360)(5,.311)(6,.286)(7,.274)(8,.267)(10,.262)(14,.260)(20,.260)};
\addplot[cb=wt] coordinates {(1,1.020)(2,.893)(3,.791)(4,.709)(5,.643)(6,.591)(7,.548)(8,.514)(9,.485)(10,.463)(12,.432)(14,.410)(17,.392)(20,.382)};
\addplot[cb=wt] coordinates {(1,.980)(2,.857)(3,.757)(4,.677)(5,.613)(6,.561)(7,.520)(8,.486)(9,.459)(10,.437)(12,.406)(14,.386)(17,.368)(20,.358)};
\addplot[cc=wt] coordinates {(1,1.000)(2,.875)(3,.774)(4,.693)(5,.628)(6,.576)(7,.534)(8,.500)(9,.472)(10,.450)(12,.419)(14,.398)(17,.380)(20,.370)};
\node[font=\fs{18}] at (axis cs:18.07,1.158) {100 Hz};
\node[font=\tnr\itshape\fs{16}] at (axis cs:5.19,0.736) {Decay};
\node[font=\tnr\fs{16}] at (axis cs:3.82,0.505) {*};
\node[font=\tnr\fs{16}] at (axis cs:20.24,0.308) {*};
\node[anchor=east, font=\tnr\itshape\fs{16}] at (axis cs:20.2,0.16) {Steady state};
\end{axis}

%================ ROW 4 : 300 Hz =================
\begin{axis}[panelA, at={(9pt,32pt)}, xmin=-0.66, xmax=19.85, ymin=-29.45, ymax=5.55]
\addplot[tr=wt, line width=2pt] coordinates {(-0.66,0)(-0.06,0)(-0.03,0.6)(0.03,-0.3)(0.14,-14)(0.32,-4.2)(0.6,-0.6)(0.9,-0.5)
(0.97,0.6)(1.03,-0.3)(1.14,-12.6)(1.32,-3.78)(1.6,-0.6)(1.9,-0.5)
(1.97,0.6)(2.03,-0.3)(2.14,-10.6)(2.32,-3.18)(2.6,-0.6)(2.9,-0.5)
(2.97,0.6)(3.03,-0.3)(3.14,-7.9)(3.32,-2.37)(3.6,-0.6)(3.9,-0.5)
(3.97,0.6)(4.03,-0.3)(4.14,-6.4)(4.32,-1.92)(4.6,-0.6)(4.9,-0.5)
(4.97,0.6)(5.03,-0.3)(5.14,-4.2)(5.32,-1.26)(5.6,-0.6)(5.9,-0.5)
(5.97,0.6)(6.03,-0.3)(6.14,-3.3)(6.32,-0.99)(6.6,-0.6)(6.9,-0.5)
(6.97,0.6)(7.03,-0.3)(7.14,-3.3)(7.32,-0.99)(7.6,-0.6)(7.9,-0.5)
(7.97,0.6)(8.03,-0.3)(8.14,-2.8)(8.32,-0.84)(8.6,-0.6)(8.9,-0.5)
(8.97,0.6)(9.03,-0.3)(9.14,-2.8)(9.32,-0.84)(9.6,-0.6)(9.9,-0.5)
(9.97,0.6)(10.03,-0.3)(10.14,-2.2)(10.32,-0.7)(10.6,-0.6)(10.9,-0.5)
(10.97,0.6)(11.03,-0.3)(11.14,-2.5)(11.32,-0.75)(11.6,-0.6)(11.9,-0.5)
(11.97,0.6)(12.03,-0.3)(12.14,-2.2)(12.32,-0.7)(12.6,-0.6)(12.9,-0.5)
(12.97,0.6)(13.03,-0.3)(13.14,-2.2)(13.32,-0.7)(13.6,-0.6)(13.9,-0.5)
(13.97,0.6)(14.03,-0.3)(14.14,-2.2)(14.32,-0.7)(14.6,-0.6)(14.9,-0.5)
(14.97,0.6)(15.03,-0.3)(15.14,-2.2)(15.32,-0.7)(15.6,-0.6)(15.9,-0.5)
(15.97,0.6)(16.03,-0.3)(16.14,-1.95)(16.32,-0.65)(16.6,-0.6)(16.9,-0.5)
(16.97,0.6)(17.03,-0.3)(17.14,-2.2)(17.32,-0.7)(17.6,-0.6)(17.9,-0.5)
(17.97,0.6)(18.03,-0.3)(18.14,-1.95)(18.32,-0.65)(18.6,-0.6)(18.9,-0.5)
(18.97,0.6)(19.03,-0.3)(19.14,-1.7)(19.32,-0.6)(19.6,-0.4)(19.85,-0.1)};
\node[font=\fs{18}] at (axis cs:16.14,1.9) {300 Hz};
\end{axis}
\begin{axis}[panelA, at={(9pt,32pt)}, xmin=-0.66, xmax=19.85, ymin=-13.72, ymax=21.28]
\addplot[tr=ko, line width=2pt] coordinates {(-0.66,0)(-0.06,0)(-0.03,0.6)(0.03,-0.1)(0.14,-13.4)(0.32,-4.0)(0.6,-0.3)(0.9,0)
(0.97,0.6)(1.03,-0.1)(1.14,-5.3)(1.32,-1.6)(1.6,-0.2)(1.9,0)
(1.97,0.6)(2.03,-0.1)(2.14,-2.6)(2.32,-0.8)(2.6,-0.2)(2.9,0)
(2.97,0.6)(3.03,-0.1)(3.14,-1.8)(3.32,-0.55)(3.6,-0.2)(3.9,0)
(3.97,0.6)(4.03,-0.1)(4.14,-1.3)(4.32,-0.4)(4.6,-0.2)(4.9,0)
(4.97,0.6)(5.03,-0.1)(5.14,-1.2)(5.32,-0.36)(5.6,-0.2)(5.9,0)
(5.97,0.6)(6.03,-0.1)(6.14,-1.1)(6.32,-0.33)(6.6,-0.2)(6.9,0)
(6.97,0.6)(7.03,-0.1)(7.14,-1.1)(7.32,-0.33)(7.6,-0.2)(7.9,0)
(7.97,0.6)(8.03,-0.1)(8.14,-1.0)(8.32,-0.3)(8.6,-0.2)(8.9,0)
(8.97,0.6)(9.03,-0.1)(9.14,-1.0)(9.32,-0.3)(9.6,-0.2)(9.9,0)
(9.97,0.6)(10.03,-0.1)(10.14,-1.0)(10.32,-0.3)(10.6,-0.2)(10.9,0)
(10.97,0.6)(11.03,-0.1)(11.14,-1.0)(11.32,-0.3)(11.6,-0.2)(11.9,0)
(11.97,0.6)(12.03,-0.1)(12.14,-1.0)(12.32,-0.3)(12.6,-0.2)(12.9,0)
(12.97,0.6)(13.03,-0.1)(13.14,-1.0)(13.32,-0.3)(13.6,-0.2)(13.9,0)
(13.97,0.6)(14.03,-0.1)(14.14,-1.0)(14.32,-0.3)(14.6,-0.2)(14.9,0)
(14.97,0.6)(15.03,-0.1)(15.14,-1.0)(15.32,-0.3)(15.6,-0.2)(15.9,0)
(15.97,0.6)(16.03,-0.1)(16.14,-1.0)(16.32,-0.3)(16.6,-0.2)(16.9,0)
(16.97,0.6)(17.03,-0.1)(17.14,-1.0)(17.32,-0.3)(17.6,-0.2)(17.9,0)
(17.97,0.6)(18.03,-0.1)(18.14,-1.0)(18.32,-0.3)(18.6,-0.2)(18.9,0)
(18.97,0.6)(19.03,-0.1)(19.14,-1.0)(19.32,-0.3)(19.6,-0.2)(19.85,0)};
\addplot[sbar] coordinates {(16.26,-10.05)(16.26,-13.05)(19.12,-13.05)};
\node[anchor=east, sbl] at (axis cs:16.16,-11.5) {2 nA};
\node[anchor=north, sbl] at (axis cs:17.75,-13.3) {25 ms};
\end{axis}

\begin{axis}[colB, botx, at={(306pt,47pt)}]
\addplot[sc=wt] coordinates {(1.62,.67)(1.88,.83)(2.27,.97)(2.44,.61)(1.97,.77)(2.16,.88)(1.71,.71)(2.08,.90)(2.36,.74)(1.55,.80)(1.6,.88)(1.75,.56)(2.0,.84)
(3.02,.61)(2.64,.54)(3.31,.48)(2.85,.69)(3.19,.44)(2.59,.56)(3.39,.63)(2.78,.40)(3.11,.71)(3.26,.52)(3.05,.95)(2.7,.66)
(3.73,.44)(4.41,.30)(3.94,.50)(4.23,.38)(3.56,.56)(4.35,.35)(3.83,.47)(4.06,.41)(4.29,.26)(3.67,.52)
(4.58,.28)(4.69,.43)(4.82,.31)(4.93,.39)(5.04,.21)(5.13,.35)(5.22,.49)(5.33,.26)(5.41,.33)(4.75,.31)
(5.62,.37)(5.88,.24)(6.27,.19)(6.44,.28)(5.97,.31)(6.16,.13)(5.71,.33)(6.08,.26)(6.36,.30)(5.55,.22)
(7.02,.17)(6.64,.26)(7.31,.36)(6.85,.13)(7.19,.22)(6.59,.29)(7.39,.19)(6.78,.30)(7.11,.21)(7.26,.24)
(7.73,.24)(8.41,.19)(7.94,.14)(8.23,.29)(7.56,.12)(8.35,.20)(7.83,.25)(8.06,.09)(8.29,.31)(7.67,.17)
(8.58,.19)(8.69,.09)(8.82,.24)(8.93,.15)(9.04,.29)(9.13,.12)(9.22,.22)(9.33,.17)(9.41,.05)(8.75,.26)
(9.62,.13)(9.88,.24)(10.27,.16)(10.44,.21)(9.97,.08)(10.16,.19)(9.71,.29)(10.08,.12)(10.36,.17)(9.55,.15)
(11.02,.24)(10.64,.13)(11.31,.09)(10.85,.17)(11.19,.20)(10.59,.04)(11.39,.21)(10.78,.15)(11.11,.18)(11.26,.12)
(11.73,.10)(12.41,.17)(11.94,.26)(12.23,.07)(11.56,.14)(12.35,.20)(11.83,.11)(12.06,.21)(12.29,.13)(11.67,.16)
(12.58,.17)(12.69,.13)(12.82,.09)(12.93,.22)(13.04,.07)(13.13,.14)(13.22,.18)(13.33,.04)(13.41,.23)(12.75,.12)
(13.62,.15)(13.88,.06)(14.27,.19)(14.44,.12)(13.97,.24)(14.16,.09)(13.71,.17)(14.08,.13)(14.36,.03)(13.55,.21)
(15.02,.10)(14.64,.21)(15.31,.13)(14.85,.18)(15.19,.05)(14.59,.16)(15.39,.26)(14.78,.09)(15.11,.14)(15.26,.12)
(15.73,.21)(16.41,.10)(15.94,.06)(16.23,.14)(15.56,.17)(16.35,.01)(15.83,.18)(16.06,.12)(16.29,.15)(15.67,.09)
(16.58,.08)(16.69,.15)(16.82,.24)(16.93,.05)(17.04,.12)(17.13,.18)(17.22,.09)(17.33,.19)(17.41,.11)(16.75,.14)
(17.62,.16)(17.88,.12)(18.27,.08)(18.44,.21)(17.97,.06)(18.16,.13)(17.71,.17)(18.08,.03)(18.36,.22)(17.55,.11)
(19.02,.14)(18.64,.05)(19.31,.18)(18.85,.11)(19.19,.23)(18.59,.08)(19.39,.16)(18.78,.12)(19.11,.02)(19.26,.20)
(19.62,.09)(19.71,.20)(19.80,.12)(19.58,.17)(19.89,.04)(19.66,.15)(19.95,.25)(19.76,.08)(19.85,.13)(19.69,.11)};
\addplot[sc=wt] coordinates {(1.78,.89)(2.09,.73)(2.37,.64)(1.61,.82)(2.18,.95)
(2.78,.45)(3.09,.62)(3.37,.58)(2.61,.49)(3.18,.66)
(3.78,.46)(4.09,.29)(4.37,.49)(3.61,.53)(4.18,.39)
(4.78,.40)(5.09,.30)(5.37,.23)(4.61,.35)(5.18,.44)
(5.78,.19)(6.09,.31)(6.37,.28)(5.61,.22)(6.18,.34)
(6.78,.26)(7.09,.13)(7.37,.29)(6.61,.31)(7.18,.21)
(7.78,.26)(8.09,.17)(8.37,.12)(7.61,.22)(8.18,.30)
(8.78,.10)(9.09,.22)(9.37,.19)(8.61,.13)(9.18,.25)
(9.78,.19)(10.09,.08)(10.37,.22)(9.61,.24)(10.18,.15)
(10.78,.21)(11.09,.14)(11.37,.09)(10.61,.18)(11.18,.24)
(11.78,.08)(12.09,.19)(12.37,.16)(11.61,.11)(12.18,.21)
(12.78,.16)(13.09,.05)(13.37,.19)(12.61,.21)(13.18,.12)
(13.78,.19)(14.09,.12)(14.37,.07)(13.61,.16)(14.18,.22)
(14.78,.07)(15.09,.18)(15.37,.15)(14.61,.10)(15.18,.20)
(15.78,.15)(16.09,.04)(16.37,.18)(15.61,.20)(16.18,.11)
(16.78,.18)(17.09,.11)(17.37,.06)(16.61,.15)(17.18,.21)
(17.78,.06)(18.09,.17)(18.37,.14)(17.61,.09)(18.18,.19)
(18.78,.15)(19.09,.04)(19.37,.18)(18.61,.20)(19.18,.11)
(19.78,.18)(19.9,.11)(19.6,.06)(19.95,.15)(19.7,.21)};
\addplot[sc=ko] coordinates {(1.02,1)(1.1,1)(1.18,1)(1.26,1)(1.34,1)(1.42,1)(1.5,1)
(2.12,.53)(1.59,.30)(2.29,.63)(1.94,.41)(2.43,.21)(1.81,.48)(1.72,.34)(2.34,.58)(1.98,.46)(2.17,.25)(1.56,.67)(2.09,.42)(1.55,.72)(1.6,.20)
(2.65,.37)(2.86,.23)(3.05,.18)(3.21,.31)(3.38,.43)(2.76,.22)(2.8,.29)(3.1,.24)(3.32,.32)
(4.12,.22)(3.59,.11)(4.29,.26)(3.94,.16)(4.43,.08)(3.81,.19)(3.8,.20)(4.1,.15)(4.32,.23)
(4.72,.09)(5.34,.19)(4.98,.15)(5.17,.06)(4.56,.24)(5.09,.13)(4.8,.16)(5.1,.11)(5.32,.19)
(5.65,.19)(5.86,.09)(6.05,.06)(6.21,.14)(6.38,.23)(5.76,.08)(5.8,.14)(6.1,.09)(6.32,.17)
(7.12,.15)(6.59,.04)(7.29,.19)(6.94,.09)(7.43,.01)(6.81,.12)(6.8,.13)(7.1,.08)(7.32,.16)
(7.72,.06)(8.34,.15)(7.98,.11)(8.17,.03)(7.56,.18)(8.09,.09)(7.8,.12)(8.1,.07)(8.32,.15)
(8.65,.16)(8.86,.08)(9.05,.05)(9.21,.12)(9.38,.19)(8.76,.07)(8.8,.12)(9.1,.07)(9.32,.15)
(10.12,.13)(9.59,.05)(10.29,.17)(9.94,.09)(10.43,.02)(9.81,.11)(9.8,.12)(10.1,.07)(10.32,.15)
(10.72,.06)(11.34,.15)(10.98,.11)(11.17,.03)(10.56,.18)(11.09,.09)(10.8,.12)(11.1,.07)(11.32,.15)
(11.65,.15)(11.86,.07)(12.05,.04)(12.21,.11)(12.38,.18)(11.76,.06)(11.8,.11)(12.1,.06)(12.32,.14)
(13.12,.12)(12.59,.04)(13.29,.16)(12.94,.08)(13.43,.01)(12.81,.10)(12.8,.11)(13.1,.06)(13.32,.14)
(13.72,.05)(14.34,.14)(13.98,.10)(14.17,.02)(13.56,.17)(14.09,.08)(13.8,.11)(14.1,.06)(14.32,.14)
(14.65,.15)(14.86,.07)(15.05,.04)(15.21,.11)(15.38,.18)(14.76,.06)(14.8,.11)(15.1,.06)(15.32,.14)
(16.12,.12)(15.59,.04)(16.29,.16)(15.94,.08)(16.43,.01)(15.81,.10)(15.8,.11)(16.1,.06)(16.32,.14)
(16.72,.05)(17.34,.14)(16.98,.10)(17.17,.02)(16.56,.17)(17.09,.08)(16.8,.11)(17.1,.06)(17.32,.14)
(17.65,.15)(17.86,.07)(18.05,.04)(18.21,.11)(18.38,.18)(17.76,.06)(17.8,.11)(18.1,.06)(18.32,.14)
(19.12,.12)(18.59,.04)(19.29,.16)(18.94,.08)(19.43,.01)(18.81,.10)(18.8,.11)(19.1,.06)(19.32,.14)
(19.6,.05)(19.7,.14)(19.8,.10)(19.9,.02)(19.97,.17)(19.65,.08)(19.75,.11)(19.85,.06)};
\node[font=\fs{18}] at (axis cs:15.15,1.123) {300 Hz};
\end{axis}

\begin{axis}[colC, botx, at={(555pt,47pt)}]
\addplot[dsh] coordinates {(1,.135)(20,.135)};
\addplot[dsh] coordinates {(1,.10)(20,.10)};
\addplot[cb=ko] coordinates {(1,1.010)(1.25,.826)(1.5,.679)(1.75,.563)(2,.470)(2.5,.336)(3,.252)(3.5,.198)(4,.164)(5,.129)(6,.115)(7,.109)(8,.107)(10,.105)(14,.105)(20,.105)};
\addplot[cb=ko] coordinates {(1,.990)(1.25,.806)(1.5,.659)(1.75,.543)(2,.450)(2.5,.316)(3,.232)(3.5,.178)(4,.144)(5,.109)(6,.095)(7,.089)(8,.087)(10,.085)(14,.085)(20,.085)};
\addplot[cc=ko] coordinates {(1,1.000)(1.25,.816)(1.5,.669)(1.75,.553)(2,.460)(2.5,.326)(3,.242)(3.5,.188)(4,.154)(5,.119)(6,.105)(7,.099)(8,.097)(10,.095)(14,.095)(20,.095)};
\addplot[cb=wt] coordinates {(1,1.032)(1.5,.889)(2,.769)(2.5,.668)(3,.583)(4,.453)(5,.361)(6,.296)(7,.250)(8,.218)(9,.196)(10,.180)(12,.161)(14,.151)(17,.145)(20,.143)};
\addplot[cb=wt] coordinates {(1,1.008)(1.5,.865)(2,.745)(2.5,.644)(3,.559)(4,.429)(5,.337)(6,.272)(7,.226)(8,.194)(9,.172)(10,.156)(12,.137)(14,.127)(17,.121)(20,.119)};
\addplot[cc=wt] coordinates {(1,1.020)(1.5,.877)(2,.757)(2.5,.656)(3,.571)(4,.441)(5,.349)(6,.284)(7,.238)(8,.206)(9,.184)(10,.168)(12,.149)(14,.139)(17,.133)(20,.131)};
\node[font=\fs{18}] at (axis cs:18.07,1.13) {300 Hz};
\node[font=\tnr\itshape\fs{16}] at (axis cs:5.19,0.505) {Decay};
\node[font=\tnr\fs{16}] at (axis cs:3.82,0.252) {*};
\node[font=\tnr\fs{16}] at (axis cs:20.24,0.104) {*};
\node[anchor=east, font=\tnr\itshape\fs{16}] at (axis cs:20.2,-0.008) {Steady state};
\end{axis}
\end{tikzpicture}
\end{document}
